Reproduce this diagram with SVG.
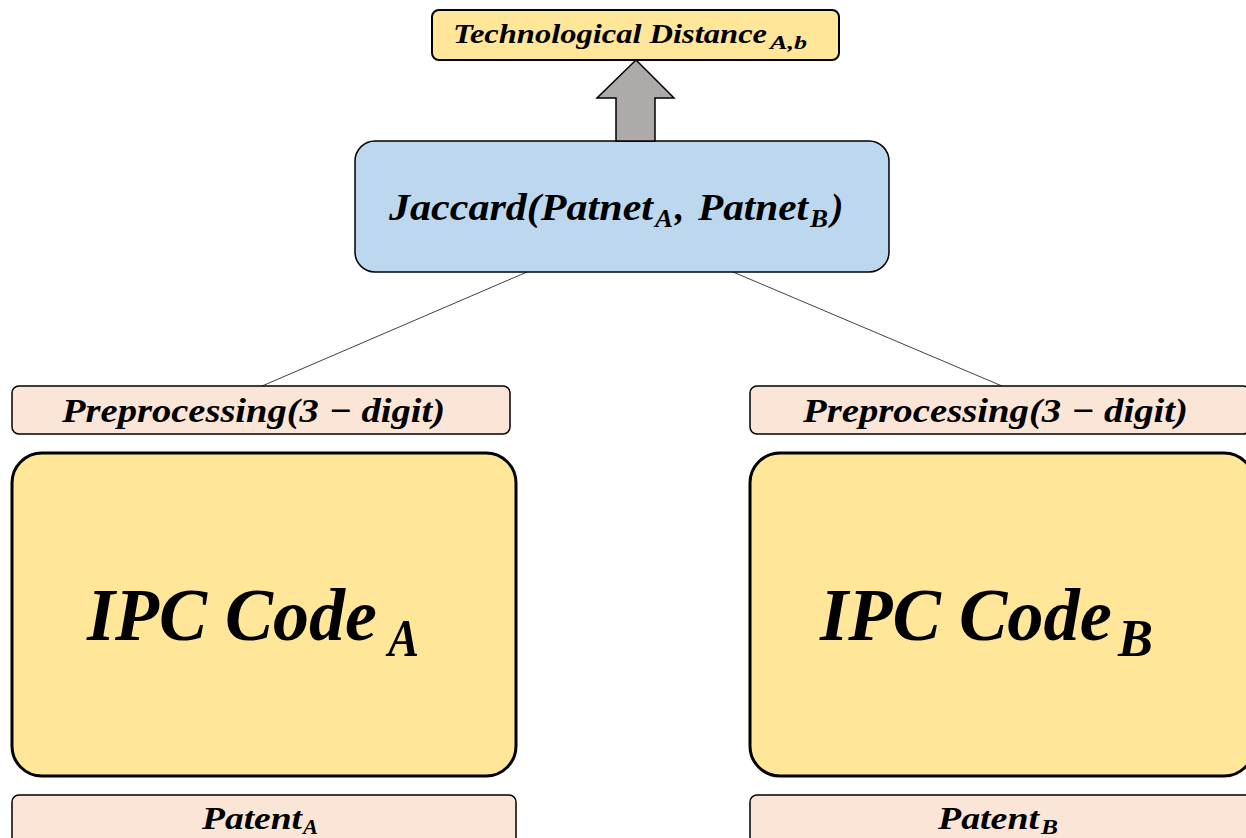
<svg xmlns="http://www.w3.org/2000/svg" width="1246" height="838" viewBox="0 0 1246 838">
<style>
.t{font-family:"Liberation Serif","Times New Roman",serif;font-weight:bold;font-style:italic;fill:#000}
.yel{fill:#FFE699;stroke:#000}
.peach{fill:#FBE5D6;stroke:#000;stroke-width:1.5}
.blue{fill:#BDD7EE;stroke:#000;stroke-width:1.5}
.conn{stroke:#404040;stroke-width:1;fill:none}
</style>
<rect width="1246" height="838" fill="#fff"/>
<g id="connectors">
<line class="conn" x1="527" y1="272" x2="262" y2="386"/>
<line class="conn" x1="733" y1="272" x2="1002" y2="386"/>
</g>
<g id="tech-distance">
<rect class="yel" x="432" y="10" width="407" height="50" rx="7" stroke-width="2"/>
<text class="t" x="453" y="43" font-size="27" textLength="314" lengthAdjust="spacingAndGlyphs">Technological Distance</text>
<text class="t" x="770" y="49" font-size="18" textLength="37" lengthAdjust="spacingAndGlyphs">A,b</text>
</g>
<g id="jaccard">
<rect class="blue" x="355" y="141" width="534" height="131" rx="20"/>
<text class="t" x="389" y="220" font-size="37" textLength="264" lengthAdjust="spacingAndGlyphs">Jaccard(Patnet</text>
<text class="t" x="655" y="227" font-size="25" textLength="18" lengthAdjust="spacingAndGlyphs">A</text>
<text class="t" x="675" y="220" font-size="37">,</text>
<text class="t" x="698" y="220" font-size="37" textLength="110" lengthAdjust="spacingAndGlyphs">Patnet</text>
<text class="t" x="810" y="227" font-size="25" textLength="18" lengthAdjust="spacingAndGlyphs">B</text>
<text class="t" x="831" y="220" font-size="37">)</text>
</g>
<g id="arrow">
<polygon points="636,60 674,98 655,98 655,141 616,141 616,98 597,98" fill="#AEAAAA" stroke="#000" stroke-width="1.5" stroke-linejoin="miter"/>
</g>
<g id="preprocessing-a">
<rect class="peach" x="12" y="386" width="498" height="48" rx="7"/>
<text class="t" x="62" y="422" font-size="34" textLength="383" lengthAdjust="spacingAndGlyphs">Preprocessing(3 − digit)</text>
</g>
<g id="preprocessing-b">
<rect class="peach" x="750" y="386" width="500" height="48" rx="7"/>
<text class="t" x="803" y="422" font-size="34" textLength="385" lengthAdjust="spacingAndGlyphs">Preprocessing(3 − digit)</text>
</g>
<g id="ipc-a">
<rect class="yel" x="12" y="453" width="504" height="323" rx="30" stroke-width="3"/>
<text class="t" x="87" y="640" font-size="74" textLength="290" lengthAdjust="spacingAndGlyphs">IPC Code</text>
<text class="t" x="388" y="656" font-size="52" textLength="31" lengthAdjust="spacingAndGlyphs">A</text>
</g>
<g id="ipc-b">
<rect class="yel" x="750" y="453" width="504" height="323" rx="30" stroke-width="3"/>
<text class="t" x="820" y="640" font-size="74" textLength="292" lengthAdjust="spacingAndGlyphs">IPC Code</text>
<text class="t" x="1118" y="656" font-size="52" textLength="35" lengthAdjust="spacingAndGlyphs">B</text>
</g>
<g id="patent-a">
<rect class="peach" x="12" y="795" width="504" height="60" rx="7"/>
<text class="t" x="202" y="829" font-size="31" textLength="100" lengthAdjust="spacingAndGlyphs">Patent</text>
<text class="t" x="303" y="834" font-size="20" textLength="15" lengthAdjust="spacingAndGlyphs">A</text>
</g>
<g id="patent-b">
<rect class="peach" x="750" y="795" width="504" height="60" rx="7"/>
<text class="t" x="938" y="829" font-size="31" textLength="101" lengthAdjust="spacingAndGlyphs">Patent</text>
<text class="t" x="1041" y="834" font-size="20" textLength="17" lengthAdjust="spacingAndGlyphs">B</text>
</g>
</svg>
